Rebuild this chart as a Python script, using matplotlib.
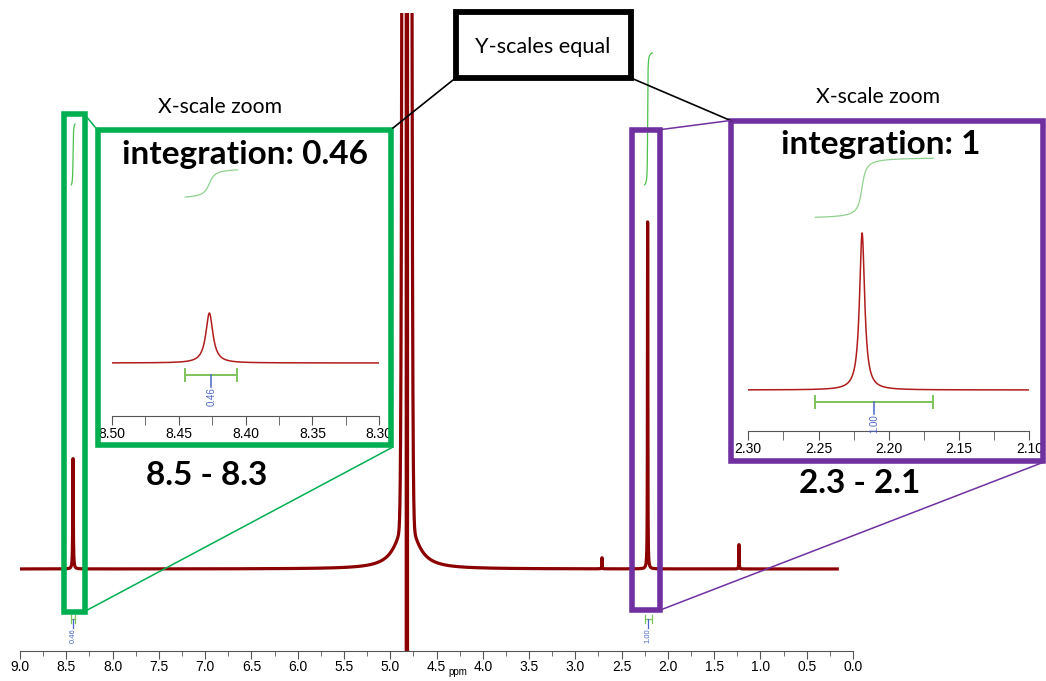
import numpy as np
import matplotlib.pyplot as plt
from matplotlib.patches import Rectangle, ConnectionPatch
from matplotlib.ticker import MultipleLocator, FormatStrFormatter
from matplotlib.transforms import blended_transform_factory

plt.rcParams['font.family'] = ['Lato', 'DejaVu Sans']

W, H = 1046, 681

# 1H signals: shift (ppm), height (relative to the 2.22 singlet), half width (ppm)
peak_ppm = [8.427, 2.219, 2.712, 1.232]
peak_height = [0.318, 1.0, 0.032, 0.07]
peak_hwhm = [0.0032, 0.0022, 0.002, 0.002]

# residual water: clipped core, phase dip and broad foot
water_ppm = 4.82
water_core = (50.0, 0.021)    # gaussian height, sigma
water_dip = (-200.0, 0.004)
water_foot = (0.15, 0.12)     # lorentzian height, hwhm

spec_start, spec_end = 9.0, 0.17

# integration regions and values
int_regions = [(8.445, 8.406), (2.2522, 2.1684)]
int_values = [0.46, 1.00]
int_labels = ['0.46', '1.00']

# zoomed windows
zoom_ranges = [(8.50, 8.30), (2.30, 2.10)]
zoom_titles = ['integration: 0.46', 'integration: 1']
zoom_captions = ['8.5 - 8.3', '2.3 - 2.1']

RED = '#8b0000'
GREEN = '#00b050'
PURPLE = '#7030a0'
INT_GREEN = '#7cc35a'
INT_BLUE = '#4a66c8'


def lorentz(x, p, h, w):
    return h * w ** 2 / ((x - p) ** 2 + w ** 2)


def gauss(x, p, h, s):
    return h * np.exp(-0.5 * ((x - p) / s) ** 2)


def spectrum(x):
    y = np.zeros_like(x)
    for p, h, w in zip(peak_ppm, peak_height, peak_hwhm):
        y += lorentz(x, p, h, w)
    y += gauss(x, water_ppm, *water_core)
    y += gauss(x, water_ppm, *water_dip)
    y += lorentz(x, water_ppm, *water_foot)
    return y


def integral_curve(r):
    xs = np.linspace(r[0], r[1], 400)
    cum = np.cumsum(spectrum(xs))
    cum = (cum - cum[0]) / (cum[-1] - cum[0])
    return xs, cum


fig = plt.figure(figsize=(W / 100, H / 100), dpi=100)


def px_axes(x0, y0, x1, y1, **kw):
    return fig.add_axes([x0 / W, 1 - y1 / H, (x1 - x0) / W, (y1 - y0) / H], **kw)


def style_axis(ax, major, minor, fmt, length, minor_len, pad):
    for s in ('left', 'top', 'right'):
        ax.spines[s].set_visible(False)
    ax.spines['bottom'].set_color('#555555')
    ax.set_yticks([])
    ax.xaxis.set_major_locator(MultipleLocator(major))
    ax.xaxis.set_minor_locator(MultipleLocator(minor))
    ax.xaxis.set_major_formatter(FormatStrFormatter(fmt))
    ax.tick_params(axis='x', which='major', length=length, color='#555555',
                   pad=pad, labelsize=10, labelfontfamily='Liberation Sans')
    ax.tick_params(axis='x', which='minor', length=minor_len, color='#555555')
    ax.patch.set_alpha(0)


# full spectrum
main = px_axes(20, 13, 853, 651)
x = np.linspace(spec_start, spec_end, 60000)
main.plot(x, spectrum(x), color=RED, lw=2.3, solid_joinstyle='round')
main.set_xlim(9.0, 0.0)
main.set_ylim(-0.2363, 1.602)
style_axis(main, 0.5, 0.25, '%.1f', 6, 3.6, 0.5)
main.text(4.27, -0.033, 'ppm', fontsize=7, family='Liberation Sans',
          ha='center', va='center',
          transform=blended_transform_factory(main.transData, main.transAxes))

for r, v, lab in zip(int_regions, int_values, int_labels):
    xs, cum = integral_curve(r)
    main.plot(xs, 1.107 + 0.38 * v * cum, color='#4cc04c', lw=0.9)
    mid = (r[0] + r[1]) / 2
    main.plot([r[0], r[1]], [-0.144, -0.144], color=INT_GREEN, lw=0.9)
    main.plot([r[0], r[0]], [-0.156, -0.132], color=INT_GREEN, lw=0.9)
    main.plot([r[1], r[1]], [-0.156, -0.132], color=INT_GREEN, lw=0.9)
    main.plot([mid, mid], [-0.144, -0.170], color=INT_BLUE, lw=0.9)
    main.text(mid, -0.172, lab, rotation=90, ha='center', va='top',
              fontsize=5.5, color=INT_BLUE, family='Liberation Sans')

# marker boxes on the full spectrum
small_boxes = [((8.525, 8.303), (-0.1225, 1.31), GREEN),
               ((2.388, 2.080), (-0.118, 1.266), PURPLE)]
for (xa, xb), (ya, yb), c in small_boxes:
    main.add_patch(Rectangle((xa, ya), xb - xa, yb - ya, fill=False, ec=c,
                             lw=4, joinstyle='miter', clip_on=False, zorder=5))

# zoomed insets
inset_px = [(111.7, 135, 379.3, 416), (748.3, 135, 1029.3, 431)]
inset_ylim = [(-0.3376, 1.452), (-0.261, 1.624)]
inset_int_offset = [1.057, 1.10]
insets = []
for k, (rng, rect, yl, off) in enumerate(zip(zoom_ranges, inset_px,
                                                inset_ylim, inset_int_offset)):
    ax = px_axes(*rect)
    xs = np.linspace(rng[0], rng[1], 3000)
    ax.plot(xs, spectrum(xs), color='#b01c1c', lw=1.1)
    ax.set_xlim(*rng)
    ax.set_ylim(*yl)
    style_axis(ax, 0.05, 0.025, '%.2f', 6.5, 6.5, 1.5)
    r = int_regions[k]
    xi, cum = integral_curve(r)
    ax.plot(xi, off + 0.376 * int_values[k] * cum, color='#8fd08f', lw=0.9)
    mid = (r[0] + r[1]) / 2
    ax.plot([r[0], r[1]], [-0.076, -0.076], color=INT_GREEN, lw=1.4)
    ax.plot([r[0], r[0]], [-0.116, -0.036], color=INT_GREEN, lw=1.4)
    ax.plot([r[1], r[1]], [-0.116, -0.036], color=INT_GREEN, lw=1.4)
    ax.plot([mid, mid], [-0.076, -0.150], color=INT_BLUE, lw=1.1)
    ax.text(mid, -0.152, int_labels[k], rotation=90, ha='center', va='top',
            fontsize=7, color=INT_BLUE, family='Liberation Sans')
    insets.append(ax)

# frames, connectors and captions
over = px_axes(0, 0, W, H)
over.set_xlim(0, W)
over.set_ylim(H, 0)
over.axis('off')
over.set_zorder(10)

over.add_patch(Rectangle((97.5, 130), 293.5, 315, fill=False, ec=GREEN,
                         lw=4, joinstyle='miter'))
over.add_patch(Rectangle((730.5, 120.5), 312, 340, fill=False, ec=PURPLE,
                         lw=4, joinstyle='miter'))
over.add_patch(Rectangle((455.5, 12), 175.5, 66, fc='white', ec='black',
                         lw=4.2, joinstyle='miter'))

links = [((8.303, 1.31), (97.5, 130), GREEN),
         ((8.303, -0.1225), (393, 447), GREEN),
         ((2.080, 1.266), (730.5, 120.5), PURPLE),
         ((2.080, -0.118), (1044, 462), PURPLE)]
for a, b, c in links:
    con = ConnectionPatch(xyA=a, coordsA=main.transData, xyB=b,
                          coordsB=over.transData, color=c, lw=1.1)
    con.set_zorder(20)
    fig.add_artist(con)
over.plot([455.5, 393], [78, 128], color='black', lw=1.2)
over.plot([631, 730.5], [78, 120.5], color='black', lw=1.2)

over.text(543, 52.7, 'Y-scales equal', fontsize=15.6, ha='center', va='baseline')
over.text(220, 113, 'X-scale zoom', fontsize=15.2, ha='center', va='baseline')
over.text(878, 103, 'X-scale zoom', fontsize=15.2, ha='center', va='baseline')
over.text(245, 164, zoom_titles[0], fontsize=24, fontweight='bold',
          ha='center', va='baseline')
over.text(881, 154, zoom_titles[1], fontsize=24, fontweight='bold',
          ha='center', va='baseline')
over.text(207, 485, zoom_captions[0], fontsize=24, fontweight='bold',
          ha='center', va='baseline')
over.text(860, 493, zoom_captions[1], fontsize=24, fontweight='bold',
          ha='center', va='baseline')

fig.savefig('out.png', dpi=100, facecolor='white')
